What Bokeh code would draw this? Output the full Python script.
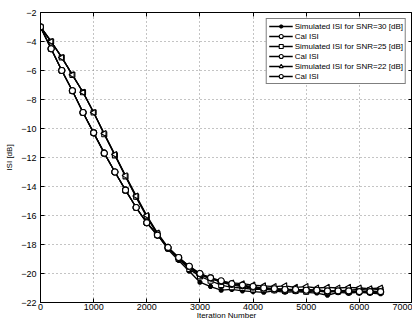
import math
from bokeh.plotting import figure
from bokeh.models import LinearAxis, Legend, LegendItem, Range1d
from bokeh.embed import file_html
from bokeh.resources import INLINE

iterations = [0, 200, 400, 600, 800, 1000, 1200, 1400, 1600, 1800, 2000, 2200, 2400, 2600,
              2800, 3000, 3200, 3400, 3600, 3800, 4000, 4200, 4400, 4600, 4800, 5000,
              5200, 5400, 5600, 5800, 6000, 6200, 6400]

sim30 = [-3.0, -4.0, -5.1, -6.3, -7.5, -8.9, -10.4, -11.85, -13.3, -14.75, -16.1, -17.3,
         -18.35, -19.1, -19.85, -20.6, -20.9, -21.15, -21.1, -21.2, -21.25, -21.3, -21.2,
         -21.3, -21.25, -21.3, -21.35, -21.5, -21.3, -21.35, -21.3, -21.35, -21.4]
cal30 = [-3.0, -4.5, -6.0, -7.4, -8.9, -10.3, -11.7, -13.0, -14.25, -15.45, -16.5, -17.35,
         -18.25, -18.95, -19.55, -20.05, -20.35, -20.6, -20.8, -20.9, -21.0, -21.05, -21.1,
         -21.15, -21.15, -21.2, -21.2, -21.25, -21.25, -21.3, -21.3, -21.3, -21.3]
sim25 = [-3.0, -4.0, -5.1, -6.3, -7.5, -8.9, -10.4, -11.85, -13.3, -14.7, -16.05, -17.25,
         -18.25, -19.0, -19.7, -20.2, -20.5, -20.8, -20.95, -21.0, -21.1, -21.1, -21.15,
         -21.2, -21.2, -21.25, -21.2, -21.3, -21.2, -21.15, -21.1, -21.15, -21.1]
cal25 = [-3.0, -4.5, -6.0, -7.4, -8.9, -10.3, -11.7, -13.0, -14.25, -15.45, -16.5, -17.35,
         -18.2, -18.9, -19.5, -20.0, -20.3, -20.55, -20.75, -20.85, -20.95, -21.0, -21.05,
         -21.1, -21.15, -21.1, -21.15, -21.2, -21.2, -21.25, -21.2, -21.25, -21.25]
sim22 = [-3.0, -4.0, -5.1, -6.3, -7.5, -8.9, -10.35, -11.8, -13.25, -14.65, -16.0, -17.2,
         -18.2, -18.95, -19.6, -20.1, -20.35, -20.55, -20.65, -20.7, -20.8, -20.85, -20.9,
         -20.85, -20.95, -20.9, -21.0, -20.95, -21.0, -20.95, -21.0, -21.05, -21.0]
cal22 = [-3.0, -4.5, -6.0, -7.4, -8.9, -10.3, -11.7, -13.0, -14.25, -15.45, -16.5, -17.35,
         -18.2, -18.9, -19.5, -20.0, -20.3, -20.5, -20.7, -20.8, -20.9, -21.0, -21.05,
         -21.1, -21.1, -21.15, -21.15, -21.2, -21.2, -21.2, -21.25, -21.25, -21.25]

labels = ["Simulated ISI for SNR=30 [dB]", "Cal ISI",
          "Simulated ISI for SNR=25 [dB]", "Cal ISI",
          "Simulated ISI for SNR=22 [dB]", "Cal ISI"]

x_ticks = [0, 1000, 2000, 3000, 4000, 5000, 6000, 7000]
y_ticks = [-22, -20, -18, -16, -14, -12, -10, -8, -6, -4, -2]
x_lim = (0, 7000)
y_lim = (-22, -2)

FONT = "Liberation Sans"

p = figure(width=412, height=322, output_backend="svg", toolbar_location=None, title=None,
           x_range=Range1d(*x_lim), y_range=Range1d(*y_lim),
           min_border_left=40, min_border_right=0, min_border_top=12, min_border_bottom=10)
p.outline_line_color = "black"
p.outline_line_width = 1
p.background_fill_color = "white"
p.border_fill_color = "white"

p.xaxis.ticker = x_ticks
p.yaxis.ticker = y_ticks
for ax in (p.xaxis[0], p.yaxis[0]):
    ax.major_tick_in = 4
    ax.major_tick_out = 0
    ax.minor_tick_line_color = None
    ax.axis_line_color = "black"
    ax.major_label_text_font = FONT
    ax.major_label_text_font_size = "9px"
    ax.major_label_text_color = "black"
    ax.axis_label_text_font = FONT
    ax.axis_label_text_font_size = "8px"
    ax.axis_label_text_font_style = "normal"
    ax.axis_label_text_color = "black"
p.xaxis.axis_label = "Iteration Number"
p.yaxis.axis_label = "ISI [dB]"
p.xaxis.major_label_standoff = 1
p.xaxis.axis_label_standoff = -2
p.yaxis.major_label_standoff = 4
p.yaxis.axis_label_standoff = 4

for loc, ticks, fixed in (("above", x_ticks, y_lim[1]), ("right", y_ticks, x_lim[1])):
    ax = LinearAxis(ticker=ticks, fixed_location=fixed)
    ax.major_tick_in = 4
    ax.major_tick_out = 0
    ax.minor_tick_line_color = None
    ax.major_label_overrides = {t: "" for t in ticks}
    ax.major_label_text_font_size = "0px"
    ax.major_label_standoff = 0
    ax.axis_label_standoff = 0
    p.add_layout(ax, loc)

p.grid.grid_line_color = "#888888"
p.grid.grid_line_dash = "1 3"
p.grid.grid_line_width = 1
p.xgrid.ticker = x_ticks
p.ygrid.ticker = y_ticks

items = []
series = [(sim30, "asterisk"), (cal30, "circle"), (sim25, "square"),
          (cal25, "circle"), (sim22, "triangle"), (cal22, "circle")]
for (ys, marker), lab in zip(series, labels):
    r1 = p.line(iterations, ys, line_color="black", line_width=1.3)
    kw = dict(size=6, line_color="black", line_width=1.1, fill_color="white")
    if marker == "asterisk":
        kw.update(size=5, line_width=2)
    if marker == "square":
        kw.update(size=5)
    if marker == "triangle":
        kw.update(angle=math.pi / 2, size=6)
    r2 = p.scatter(iterations, ys, marker=marker, **kw)
    items.append(LegendItem(label=lab, renderers=[r1, r2]))

legend = Legend(items=items, location="top_right")
legend.margin = 6
legend.padding = 2
legend.spacing = 0
legend.glyph_height = 10
legend.glyph_width = 24
legend.label_height = 10
legend.label_standoff = 2
legend.label_text_font = FONT
legend.label_text_font_size = "8px"
legend.label_text_color = "black"
legend.border_line_color = "black"
legend.border_line_width = 1
legend.background_fill_alpha = 1
p.add_layout(legend, "center")

open("out.html", "w").write(file_html(p, INLINE))
